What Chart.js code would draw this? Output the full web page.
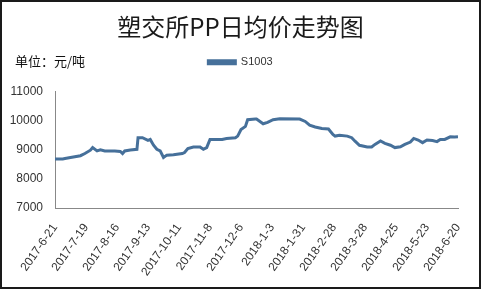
<!DOCTYPE html>
<html>
<head>
<meta charset="utf-8">
<script src="https://cdn.jsdelivr.net/npm/chart.js@4/dist/chart.umd.min.js"></script>
<style>
html,body{margin:0;padding:0;background:#fff;}
#wrap{width:481px;height:289px;position:relative;}
</style>
</head>
<body>
<div id="wrap"><canvas id="c" width="481" height="289"></canvas></div>
<script>
// Day offsets from 2017-6-21
const dayOffsets = [0,7,9,14,23,27,32,34,38,41,45,54,59,61,63,68,74,75,79,84,86,89,92,95,98,101,107,115,117,120,125,131,134,137,140,145,151,155,163,165,168,172,174,181,182,188,192,197,203,221,226,230,235,241,247,251,253,257,264,268,271,275,282,286,289,294,298,303,307,312,316,321,324,328,332,336,341,345,348,352,357,361,364];
const priceS1003 = [8685,8690,8705,8740,8800,8875,8990,9080,8965,9000,8965,8965,8945,8875,8965,9000,9020,9420,9420,9330,9360,9160,9020,8965,8740,8820,8830,8875,8910,9045,9100,9100,9020,9080,9360,9360,9360,9395,9420,9475,9700,9810,10040,10060,10060,9900,9950,10040,10070,10060,9980,9850,9790,9735,9720,9530,9475,9500,9475,9420,9300,9160,9100,9100,9190,9305,9225,9160,9080,9110,9190,9270,9395,9340,9250,9340,9320,9285,9360,9360,9450,9440,9450];
const tickLabels = ["2017-6-21","2017-7-19","2017-8-16","2017-9-13","2017-10-11","2017-11-8","2017-12-6","2018-1-3","2018-1-31","2018-2-28","2018-3-28","2018-4-25","2018-5-23","2018-6-20"];
const yTicks = [7000,8000,9000,10000,11000];
const seriesName = "S1003";
const titleText = "塑交所PP日均价走势图";
const unitText = "单位：元/吨";

const framePlugin = {
  id: 'frame',
  beforeInit(chart){
    const lg = chart.legend;
    if (lg && !lg._patched){
      const orig = lg.fit;
      lg.fit = function(){ orig.call(this); this.height += 14; };
      lg._patched = true;
    }
  },
  beforeDraw(chart){
    const ctx = chart.ctx;
    ctx.save();
    ctx.fillStyle = '#fff';
    ctx.fillRect(0,0,chart.width,chart.height);
    ctx.restore();
  },
  afterDraw(chart){
    const ctx = chart.ctx;
    ctx.save();
    ctx.strokeStyle = '#1a1a1a';
    ctx.lineWidth = 2;
    ctx.strokeRect(1,1,chart.width-2,chart.height-2);
    ctx.fillStyle = '#111';
    ctx.font = '13px "Noto Sans CJK SC"';
    ctx.textBaseline = 'middle';
    ctx.textAlign = 'left';
    ctx.fillText(unitText, 15, 61);
    ctx.restore();
  }
};

new Chart(document.getElementById('c'), {
  type: 'line',
  data: {
    datasets: [{
      label: seriesName,
      data: dayOffsets.map((d,i)=>({x:d, y:priceS1003[i]})),
      borderColor: '#46709A',
      backgroundColor: '#46709A',
      borderWidth: 3,
      pointRadius: 0,
      tension: 0,
      fill: false
    }]
  },
  options: {
    responsive: false,
    animation: false,
    layout: { padding: { left: 0, right: 0, top: 0, bottom: 0 } },
    plugins: {
      title: {
        display: true,
        text: titleText,
        color: '#1a1a1a',
        font: { family: '"Noto Sans CJK SC"', size: 24, weight: 'normal' },
        padding: { top: 12, bottom: 6 }
      },
      legend: {
        display: true,
        labels: {
          color: '#333',
          font: { family: '"Liberation Sans"', size: 11 },
          boxWidth: 27,
          boxHeight: 3,
          padding: 10
        }
      },
      tooltip: { enabled: false }
    },
    scales: {
      x: {
        type: 'linear',
        min: 0, max: 364,
        afterBuildTicks(scale){ scale.ticks = tickLabels.map((_,i)=>({value: i*28})); },
        afterFit(scale){ scale.height = 81; scale.paddingRight = 23; },
        grid: { display: false, drawTicks: false },
        border: { color: '#888', width: 1 },
        ticks: {
          autoSkip: false,
          minRotation: 55, maxRotation: 55,
          padding: 13,
          color: '#333',
          font: { family: '"Liberation Sans"', size: 12 },
          callback: (v)=> tickLabels[Math.round(v/28)]
        }
      },
      y: {
        min: 7000, max: 11000,
        afterBuildTicks(scale){ scale.ticks = yTicks.map(v=>({value:v})); },
        afterFit(scale){ scale.width = 55; },
        grid: { display: false, drawTicks: false },
        border: { color: '#888', width: 1 },
        ticks: {
          padding: 12,
          color: '#333',
          font: { family: '"Liberation Sans"', size: 12 },
          callback: (v)=> String(v)
        }
      }
    }
  },
  plugins: [framePlugin]
});
</script>
</body>
</html>
